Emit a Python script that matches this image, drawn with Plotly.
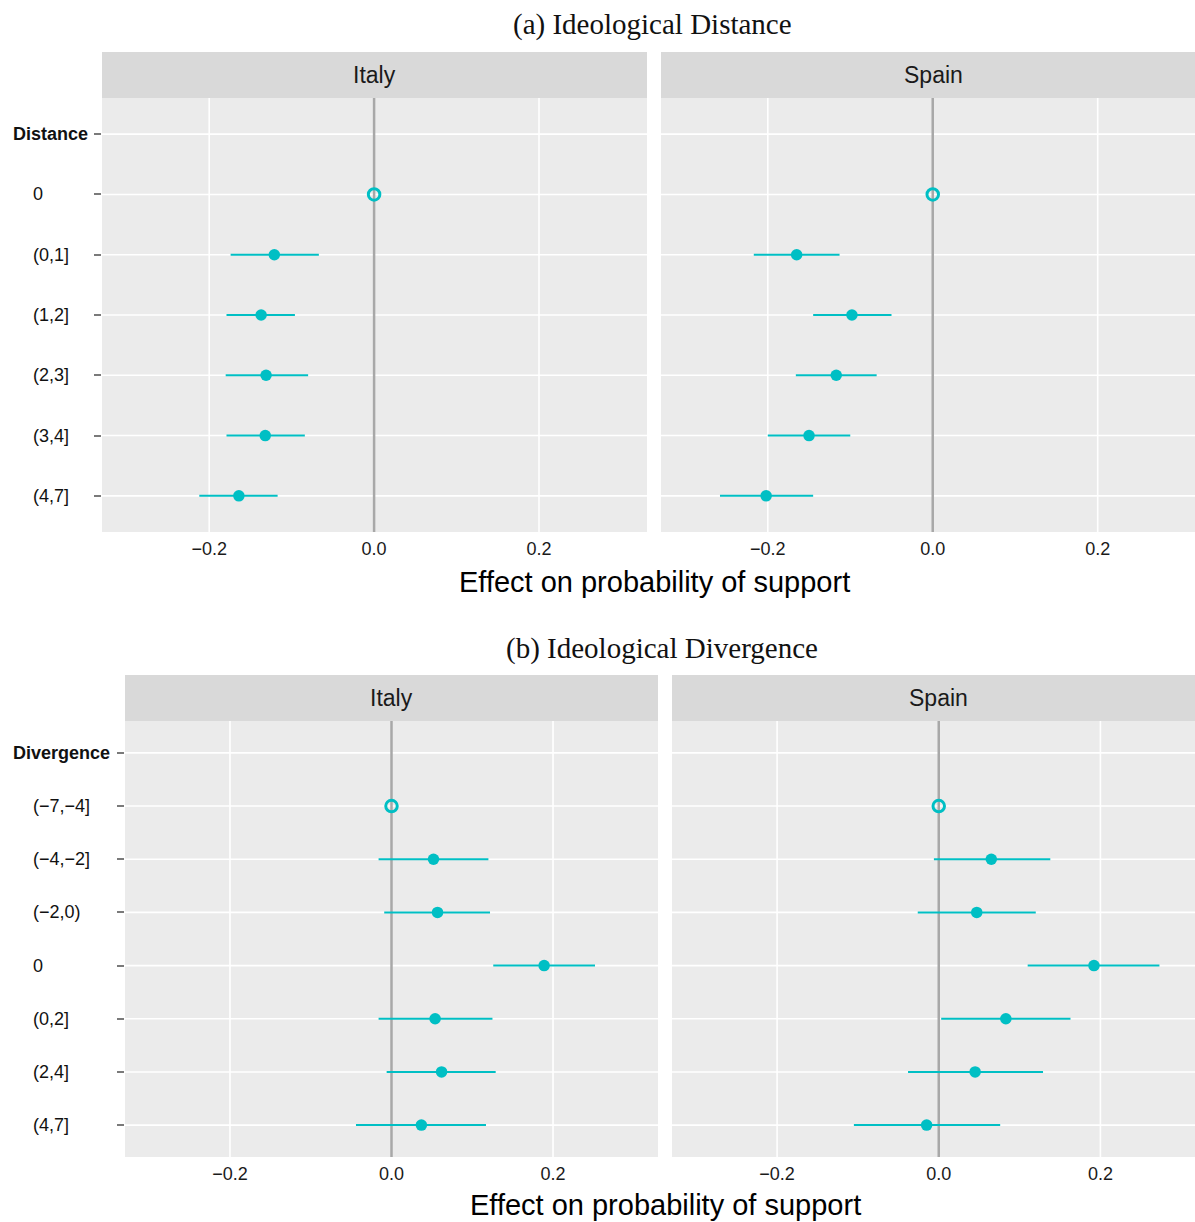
import plotly.graph_objects as go

W, H = 1195, 1222

# ---------------- data ----------------
countries = ["Italy", "Spain"]

dist_header = "Distance"
dist_cats = ["0", "(0,1]", "(1,2]", "(2,3]", "(3,4]", "(4,7]"]
dist_italy_est = [0.0, -0.121, -0.137, -0.131, -0.132, -0.164]
dist_italy_lo = [0.0, -0.174, -0.179, -0.180, -0.179, -0.212]
dist_italy_hi = [0.0, -0.067, -0.096, -0.080, -0.084, -0.117]
dist_spain_est = [0.0, -0.165, -0.098, -0.117, -0.150, -0.202]
dist_spain_lo = [0.0, -0.217, -0.145, -0.166, -0.200, -0.258]
dist_spain_hi = [0.0, -0.113, -0.050, -0.068, -0.100, -0.145]

div_header = "Divergence"
div_cats = ["(\u22127,\u22124]", "(\u22124,\u22122]", "(\u22122,0)", "0", "(0,2]", "(2,4]", "(4,7]"]
div_italy_est = [0.0, 0.052, 0.057, 0.189, 0.054, 0.062, 0.037]
div_italy_lo = [0.0, -0.016, -0.009, 0.126, -0.016, -0.006, -0.044]
div_italy_hi = [0.0, 0.120, 0.122, 0.252, 0.125, 0.129, 0.117]
div_spain_est = [0.0, 0.065, 0.047, 0.192, 0.083, 0.045, -0.015]
div_spain_lo = [0.0, -0.006, -0.026, 0.110, 0.003, -0.038, -0.105]
div_spain_hi = [0.0, 0.138, 0.120, 0.273, 0.163, 0.129, 0.076]

x_tickvals = [-0.2, 0.0, 0.2]
x_ticktext = ["\u22120.2", "0.0", "0.2"]
x_title = "Effect on probability of support"
title_a = "(a) Ideological Distance"
title_b = "(b) Ideological Divergence"

# ---------------- style ----------------
TEAL = "#00BFC4"
PANEL_BG = "#EBEBEB"
STRIP_BG = "#D9D9D9"
GRID_W = 1.6
SANS = "Liberation Sans, Arial, Helvetica, sans-serif"
SERIF = "Liberation Serif, Times New Roman, serif"

fig = go.Figure()


def px_x(p):
    return p / W


def px_y(p):
    return 1 - p / H


# suffix, header, cats, est, lo, hi, x-domain px, y-domain px, x-range, left?, country, strip-centre px
panels = [
    ("", dist_header, dist_cats, dist_italy_est, dist_italy_lo, dist_italy_hi,
     (102, 647), (98, 532), (-0.330, 0.331), True, countries[0], 374.5),
    ("2", dist_header, dist_cats, dist_spain_est, dist_spain_lo, dist_spain_hi,
     (661, 1195), (98, 532), (-0.3295, 0.318), False, countries[1], 933.5),
    ("3", div_header, div_cats, div_italy_est, div_italy_lo, div_italy_hi,
     (125, 658), (721, 1157), (-0.330, 0.330), True, countries[0], 391.5),
    ("4", div_header, div_cats, div_spain_est, div_spain_lo, div_spain_hi,
     (672, 1195), (721, 1157), (-0.330, 0.317), False, countries[1], 938.5),
]

annotations = []
shapes = []

for suf, header, cats, est, lo, hi, xd, yd, xr, left, country, sc in panels:
    xa = "x" + suf
    ya = "y" + suf
    allcats = [header] + cats
    n = len(allcats)

    ys = cats[1:]
    e = est[1:]
    plus = [h - v for h, v in zip(hi[1:], e)]
    minus = [v - l for v, l in zip(e, lo[1:])]
    fig.add_trace(go.Scatter(
        x=e, y=ys, xaxis=xa, yaxis=ya, mode="markers",
        marker=dict(color=TEAL, size=11.5, line=dict(width=0)),
        error_x=dict(type="data", symmetric=False, array=plus, arrayminus=minus,
                     color=TEAL, thickness=2, width=0),
        showlegend=False, hoverinfo="skip",
    ))
    fig.add_trace(go.Scatter(
        x=[est[0]], y=[cats[0]], xaxis=xa, yaxis=ya, mode="markers",
        marker=dict(color=TEAL, size=11.5, symbol="circle-open",
                    line=dict(width=3, color=TEAL)),
        showlegend=False, hoverinfo="skip",
    ))

    xkey = "xaxis" + suf
    ykey = "yaxis" + suf
    fig.update_layout(**{
        xkey: dict(domain=[px_x(xd[0]), px_x(xd[1])], anchor=ya, range=list(xr),
                   tickvals=x_tickvals, ticktext=x_ticktext, showgrid=False,
                   zeroline=False, ticks="", ticklabelstandoff=4,
                   tickfont=dict(family=SANS, size=18, color="#1a1a1a"),
                   showline=False, fixedrange=True),
        ykey: dict(domain=[px_y(yd[1]), px_y(yd[0])], anchor=xa, type="category",
                   categoryorder="array", categoryarray=allcats,
                   range=[n - 1 + 0.6, -0.6], showgrid=False,
                   zeroline=False, showticklabels=False,
                   ticks="outside" if left else "", ticklen=7, tickwidth=2,
                   tickcolor="#7a7a7a", showline=False, fixedrange=True),
    })

    # grid lines (drawn as shapes so the zero line can sit over them)
    for i in range(n):
        shapes.append(dict(type="line", xref=xa + " domain", yref=ya,
                           x0=0, x1=1, y0=i, y1=i,
                           line=dict(color="white", width=GRID_W), layer="below"))
    for v in x_tickvals:
        if v == 0:
            continue
        shapes.append(dict(type="line", xref=xa, yref=ya + " domain",
                           x0=v, x1=v, y0=0, y1=1,
                           line=dict(color="white", width=GRID_W), layer="below"))
    # zero reference line
    shapes.append(dict(type="line", xref=xa, yref=ya + " domain", x0=0, x1=0,
                       y0=0, y1=1, line=dict(color="#A8A8A8", width=2.5),
                       layer="below"))
    # strip
    shapes.append(dict(type="rect", xref="paper", yref="paper",
                       x0=px_x(xd[0]), x1=px_x(xd[1]),
                       y0=px_y(yd[0]), y1=px_y(yd[0] - 46),
                       fillcolor=STRIP_BG, line=dict(width=0), layer="below"))
    annotations.append(dict(text=country, xref="paper", yref="paper",
                            x=px_x(sc), y=px_y(yd[0] - 23),
                            showarrow=False, xanchor="center", yanchor="middle",
                            font=dict(family=SANS, size=23, color="#1a1a1a")))

    if left:
        annotations.append(dict(text="<b>" + header + "</b>", xref="paper", yref=ya,
                                x=px_x(11), y=0, showarrow=False,
                                xanchor="left", yanchor="middle",
                                font=dict(family=SANS, size=18, color="#111")))
        for i, c in enumerate(cats):
            annotations.append(dict(text=c, xref="paper", yref=ya,
                                    x=px_x(31), y=i + 1, showarrow=False,
                                    xanchor="left", yanchor="middle",
                                    font=dict(family=SANS, size=18, color="#111")))

annotations.append(dict(text=title_a, xref="paper", yref="paper", x=px_x(652),
                        y=px_y(25), showarrow=False, xanchor="center", yanchor="middle",
                        font=dict(family=SERIF, size=29, color="#111")))
annotations.append(dict(text=title_b, xref="paper", yref="paper", x=px_x(662),
                        y=px_y(648), showarrow=False, xanchor="center", yanchor="middle",
                        font=dict(family=SERIF, size=29, color="#111")))
annotations.append(dict(text=x_title, xref="paper", yref="paper", x=px_x(654),
                        y=px_y(582), showarrow=False, xanchor="center", yanchor="middle",
                        font=dict(family=SANS, size=29, color="#000")))
annotations.append(dict(text=x_title, xref="paper", yref="paper", x=px_x(665),
                        y=px_y(1205), showarrow=False, xanchor="center", yanchor="middle",
                        font=dict(family=SANS, size=29, color="#000")))

fig.update_layout(
    width=W, height=H, margin=dict(l=0, r=0, t=0, b=0),
    paper_bgcolor="white", plot_bgcolor=PANEL_BG,
    shapes=shapes, annotations=annotations, showlegend=False,
)

fig.write_html("out.html", config={"displayModeBar": False})
